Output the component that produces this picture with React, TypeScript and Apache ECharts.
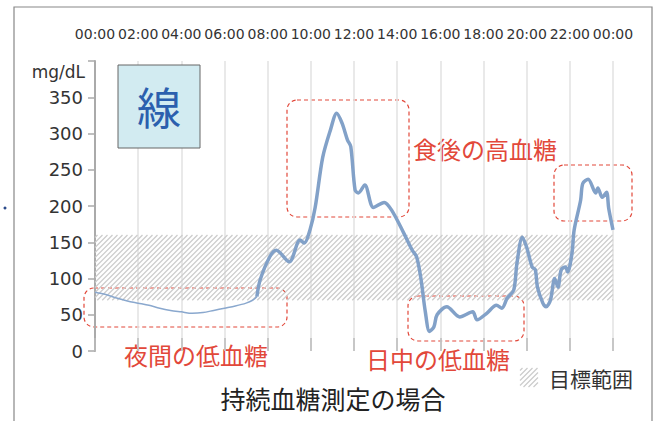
import React, { useEffect, useRef } from "react";
import * as echarts from "echarts";

// Data
const xTickHours = [0, 2, 4, 6, 8, 10, 12, 14, 16, 18, 20, 22, 24];
const targetRange = [70, 160];
const nightHours = [0, 0.5, 1, 1.5, 2, 2.5, 3, 3.5, 4, 4.5, 5, 5.5, 6, 6.5, 7, 7.3, 7.5];
const nightValues = [81, 78, 73, 69, 66, 63, 59, 56, 54, 52, 53, 56, 59, 62, 66, 70, 75];
const dayHours = [
  7.5, 7.65, 8.1, 8.4, 9.0, 9.5, 9.7, 9.96, 10.2, 10.55, 10.9, 11.2, 11.45, 11.7, 11.85,
  12.05, 12.2, 12.5, 12.9, 13.4, 13.75, 14.3, 14.7, 14.9, 15.1, 15.3, 15.5, 15.7, 15.85,
  16.3, 16.9, 17.5, 17.7, 18.15, 18.6, 18.85, 19.1, 19.4, 19.55, 19.8, 20.0, 20.25, 20.4,
  20.5, 20.75, 20.9, 21.1, 21.3, 21.45, 21.6, 21.8, 21.9, 22.1, 22.2, 22.5, 22.6, 22.85,
  23.2, 23.3, 23.5, 23.7, 23.8, 24.0,
];
const dayValues = [
  75, 98, 130, 139, 123, 153, 149, 167, 198, 267, 304, 328, 314, 291, 282,
  222, 218, 229, 198, 205, 194, 163, 139, 130, 100, 55, 27, 33, 50,
  61, 47, 54, 43, 52, 63, 59, 73, 84, 121, 157, 143, 116, 112,
  88, 66, 61, 70, 100, 88, 112, 116, 109, 135, 167, 208, 231, 237,
  218, 225, 212, 219, 197, 167,
];
const yMax = 400;
const yInterval = 50;

const fmtHour = (h: number) => {
  const v = h % 24;
  return (v < 10 ? "0" : "") + v + ":00";
};

const CJK = "'Noto Sans CJK JP', sans-serif";
const LAT = "'DejaVu Sans', sans-serif";
const RED = "#e2483a";

function hatchLines(x0: number, y0: number, w: number, h: number, step: number, color: string, lw: number) {
  const x1 = x0 + w, y1 = y0 + h;
  const out: any[] = [];
  for (let c = x0 + y0 + step / 2; c <= x1 + y1; c += step) {
    const xs = Math.max(x0, c - y1);
    const xe = Math.min(x1, c - y0);
    if (xe <= xs) continue;
    out.push({
      type: "line",
      shape: { x1: xs, y1: c - xs, x2: xe, y2: c - xe },
      style: { stroke: color, lineWidth: lw },
      silent: true,
    });
  }
  return out;
}

const redBox = (x: number, y: number, w: number, h: number) => ({
  type: "rect",
  shape: { x, y, width: w, height: h, r: 10 },
  style: { fill: "none", stroke: RED, lineWidth: 1.2, lineDash: [4, 3] },
  silent: true,
});

const redText = (text: string, x: number, y: number) => ({
  type: "text",
  x,
  y,
  style: {
    text,
    fill: RED,
    fontSize: 24,
    fontFamily: CJK,
    textAlign: "center",
    textVerticalAlign: "middle",
  },
  silent: true,
});

export default function App() {
  const ref = useRef<HTMLDivElement>(null);
  useEffect(() => {
    if (!ref.current) return;
    const chart = echarts.init(ref.current, null, { renderer: "svg" });
    const option: any = {
      animation: false,
      backgroundColor: "#ffffff",
      grid: { left: 95, right: 46, top: 61, bottom: 70, containLabel: false },
      xAxis: {
        type: "value",
        position: "top",
        min: xTickHours[0],
        max: xTickHours[xTickHours.length - 1],
        interval: 2,
        axisLine: { show: false },
        axisTick: { show: true, length: 13, lineStyle: { color: "#bbbbbb", width: 1.5 } },
        axisLabel: {
          formatter: (v: number) => fmtHour(v),
          fontSize: 14,
          color: "#333",
          fontFamily: LAT,
          margin: 20,
        },
        splitLine: { show: true, lineStyle: { color: "#e2e2e2", width: 1.5 } },
      },
      yAxis: {
        type: "value",
        min: 0,
        max: yMax,
        interval: yInterval,
        axisLine: { show: true, lineStyle: { color: "#aaaaaa", width: 2 } },
        axisTick: { show: true, length: 7, lineStyle: { color: "#aaaaaa", width: 1.5 } },
        axisLabel: {
          formatter: (v: number) => (v >= yMax ? "" : String(v)),
          fontSize: 18,
          color: "#333",
          fontFamily: LAT,
          margin: 12,
        },
        splitLine: { show: false },
      },
      series: [
        {
          type: "custom",
          name: "目標範囲",
          silent: true,
          z: 1,
          dimensions: ["x0", "x1", "y0", "y1"],
          encode: { x: [0, 1], y: [2, 3] },
          data: [[xTickHours[0], xTickHours[xTickHours.length - 1], targetRange[0], targetRange[1]]],
          renderItem: (params: any, api: any) => {
            const a = api.coord([api.value(0), api.value(3)]);
            const b = api.coord([api.value(1), api.value(2)]);
            return {
              type: "group",
              children: hatchLines(a[0], a[1], b[0] - a[0], b[1] - a[1], 5, "#cccccc", 1.2),
            };
          },
        },
        {
          type: "line",
          z: 3,
          data: nightHours.map((h, i) => [h, nightValues[i]]),
          smooth: 0.3,
          showSymbol: false,
          lineStyle: { color: "#8aa8ce", width: 1.5 },
        },
        {
          type: "line",
          z: 3,
          data: dayHours.map((h, i) => [h, dayValues[i]]),
          smooth: 0.3,
          showSymbol: false,
          lineStyle: { color: "#82a1c8", width: 3.5 },
        },
      ],
      graphic: [
        {
          type: "rect",
          shape: { x: 14, y: 7, width: 638, height: 440 },
          style: { fill: "none", stroke: "#888888", lineWidth: 1.2 },
          silent: true,
        },
        { type: "circle", shape: { cx: 5, cy: 208, r: 1.5 }, style: { fill: "#2b4a8a" }, silent: true },
        {
          type: "text",
          x: 85,
          y: 72,
          style: { text: "mg/dL", fill: "#333", fontSize: 17, fontFamily: LAT, textAlign: "right", textVerticalAlign: "middle" },
          silent: true,
        },
        {
          type: "rect",
          shape: { x: 118, y: 65, width: 82, height: 83 },
          style: { fill: "#d2ebf1", stroke: "#666666", lineWidth: 1 },
          z: 10,
          silent: true,
        },
        {
          type: "text",
          x: 159,
          y: 106,
          z: 11,
          style: { text: "線", fill: "#2b5fae", fontSize: 44, fontFamily: CJK, textAlign: "center", textVerticalAlign: "middle" },
          silent: true,
        },
        redBox(84, 288, 203, 39),
        redBox(287, 100, 122, 117),
        redBox(408, 296, 116, 45),
        redBox(554, 165, 78, 56),
        redText("食後の高血糖", 485, 148),
        redText("夜間の低血糖", 196, 354),
        redText("日中の低血糖", 438, 358),
        {
          type: "text",
          x: 333,
          y: 398,
          style: { text: "持続血糖測定の場合", fill: "#222", fontSize: 25, fontFamily: CJK, textAlign: "center", textVerticalAlign: "middle" },
          silent: true,
        },
        {
          type: "group",
          silent: true,
          children: hatchLines(520, 368, 18, 19, 5, "#cccccc", 1.2),
        },
        {
          type: "text",
          x: 549,
          y: 378,
          style: { text: "目標範囲", fill: "#333", fontSize: 21, fontFamily: CJK, textAlign: "left", textVerticalAlign: "middle" },
          silent: true,
        },
      ],
    };
    chart.setOption(option);
    return () => chart.dispose();
  }, []);
  return (
    <div
      ref={ref}
      style={{ position: "fixed", left: 0, top: 0, width: 659, height: 421 }}
    />
  );
}
